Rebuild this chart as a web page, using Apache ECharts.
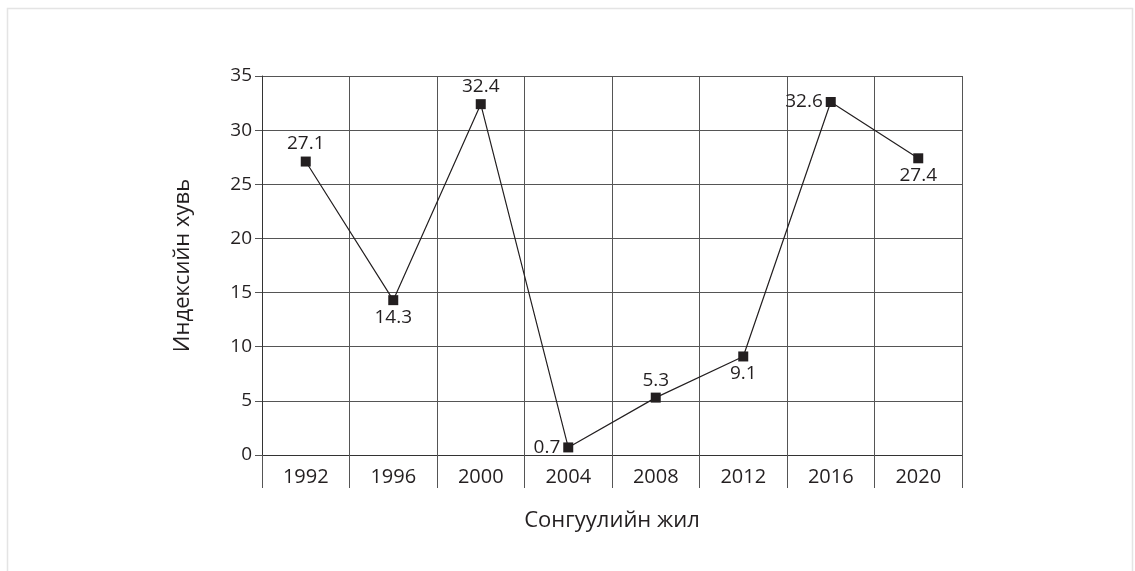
<!DOCTYPE html>
<html>
<head>
<meta charset="utf-8">
<script src="https://cdn.jsdelivr.net/npm/echarts@6/dist/echarts.min.js"></script>
<style>
  html, body { margin: 0; padding: 0; background: #fff; }
  #main { width: 1135px; height: 571px; }
</style>
</head>
<body>
<div id="main"></div>
<script>
// election years and index values
const years = ['1992', '1996', '2000', '2004', '2008', '2012', '2016', '2020'];
const values = [27.1, 14.3, 32.4, 0.7, 5.3, 9.1, 32.6, 27.4];
// where each value label sits
const labelPos = ['top', 'bottom', 'top', 'left', 'top', 'bottom', 'left', 'bottom'];

const chart = echarts.init(document.getElementById('main'));
const font = "'Open Sans', 'Noto Sans', sans-serif";

const option = {
  animation: false,
  textStyle: { fontFamily: font },
  graphic: [{
    type: 'rect',
    shape: { x: 7.5, y: 8.5, width: 1125, height: 580 },
    style: { fill: 'none', stroke: '#e4e4e4', lineWidth: 1.5 },
    silent: true
  }],
  grid: { left: 262, right: 173, top: 76, bottom: 116 },
  xAxis: {
    type: 'category',
    data: years,
    boundaryGap: true,
    name: 'Сонгуулийн жил',
    nameLocation: 'middle',
    nameGap: 55,
    nameTextStyle: { fontSize: 22, color: '#231f20', fontFamily: font },
    axisLine: { lineStyle: { color: '#333', width: 1 } },
    axisTick: { show: true, length: 33, lineStyle: { color: '#555' } },
    axisLabel: { fontSize: 20, color: '#231f20', margin: 12, fontFamily: font },
    splitLine: { show: true, lineStyle: { color: '#555', width: 1 } }
  },
  yAxis: {
    type: 'value',
    min: 0,
    max: 35,
    interval: 5,
    name: 'Индексийн хувь',
    nameLocation: 'middle',
    nameGap: 68,
    nameTextStyle: { fontSize: 22, color: '#231f20', fontFamily: font },
    axisLine: { show: true, lineStyle: { color: '#333', width: 1 } },
    axisTick: { show: true, length: 7, lineStyle: { color: '#555' } },
    axisLabel: { fontSize: 19, color: '#231f20', margin: 10, fontFamily: font },
    splitLine: { show: true, lineStyle: { color: '#555', width: 1 } }
  },
  series: [{
    type: 'line',
    data: values.map((v, i) => ({
      value: v,
      label: { position: labelPos[i] }
    })),
    symbol: 'rect',
    symbolSize: 10,
    itemStyle: { color: '#231f20' },
    lineStyle: { color: '#231f20', width: 1.2 },
    label: {
      show: true,
      fontSize: 19,
      color: '#231f20',
      fontFamily: font,
      distance: 3
    }
  }]
};

chart.setOption(option);
</script>
</body>
</html>
